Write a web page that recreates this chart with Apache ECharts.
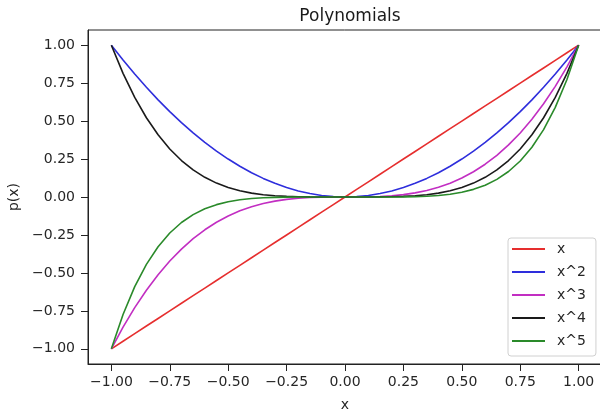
<!DOCTYPE html>
<html><head><meta charset="utf-8">
<script src="https://cdn.jsdelivr.net/npm/echarts@6/dist/echarts.min.js"></script>
<style>html,body{margin:0;padding:0;background:#fff}#c{width:600px;height:410px}</style>
</head><body><div id="c"></div>
<script>
const xs = [-1,-0.95,-0.9,-0.85,-0.8,-0.75,-0.7,-0.65,-0.6,-0.55,-0.5,-0.45,-0.4,-0.35,-0.3,-0.25,-0.2,-0.15,-0.1,-0.05,0,0.05,0.1,0.15,0.2,0.25,0.3,0.35,0.4,0.45,0.5,0.55,0.6,0.65,0.7,0.75,0.8,0.85,0.9,0.95,1];
const p1 = [-1,-0.95,-0.9,-0.85,-0.8,-0.75,-0.7,-0.65,-0.6,-0.55,-0.5,-0.45,-0.4,-0.35,-0.3,-0.25,-0.2,-0.15,-0.1,-0.05,0,0.05,0.1,0.15,0.2,0.25,0.3,0.35,0.4,0.45,0.5,0.55,0.6,0.65,0.7,0.75,0.8,0.85,0.9,0.95,1];
const p2 = [1,0.9025,0.81,0.7225,0.64,0.5625,0.49,0.4225,0.36,0.3025,0.25,0.2025,0.16,0.1225,0.09,0.0625,0.04,0.0225,0.01,0.0025,0,0.0025,0.01,0.0225,0.04,0.0625,0.09,0.1225,0.16,0.2025,0.25,0.3025,0.36,0.4225,0.49,0.5625,0.64,0.7225,0.81,0.9025,1];
const p3 = [-1,-0.8574,-0.729,-0.6141,-0.512,-0.4219,-0.343,-0.2746,-0.216,-0.1664,-0.125,-0.0911,-0.064,-0.0429,-0.027,-0.0156,-0.008,-0.0034,-0.001,-0.0001,0,0.0001,0.001,0.0034,0.008,0.0156,0.027,0.0429,0.064,0.0911,0.125,0.1664,0.216,0.2746,0.343,0.4219,0.512,0.6141,0.729,0.8574,1];
const p4 = [1,0.8145,0.6561,0.522,0.4096,0.3164,0.2401,0.1785,0.1296,0.0915,0.0625,0.041,0.0256,0.015,0.0081,0.0039,0.0016,0.0005,0.0001,0,0,0,0.0001,0.0005,0.0016,0.0039,0.0081,0.015,0.0256,0.041,0.0625,0.0915,0.1296,0.1785,0.2401,0.3164,0.4096,0.522,0.6561,0.8145,1];
const p5 = [-1,-0.7738,-0.5905,-0.4437,-0.3277,-0.2373,-0.1681,-0.116,-0.0778,-0.0503,-0.0313,-0.0185,-0.0102,-0.0053,-0.0024,-0.001,-0.0003,-0.0001,0,0,0,0,0,0.0001,0.0003,0.001,0.0024,0.0053,0.0102,0.0185,0.0313,0.0503,0.0778,0.116,0.1681,0.2373,0.3277,0.4437,0.5905,0.7738,1];
const seriesNames = ['x','x^2','x^3','x^4','x^5'];
const tickVals = [-1,-0.75,-0.5,-0.25,0,0.25,0.5,0.75,1];

const colors = ['#e62e2e','#2e2edc','#c22ec2','#1a1a1a','#2a8a2a'];
const ys = [p1,p2,p3,p4,p5];
const font = 'DejaVu Sans';
const fmt = v=>(v<0?'\u2212':'')+Math.abs(v).toFixed(2);
const chart = echarts.init(document.getElementById('c'), null, {renderer:'canvas'});
chart.setOption({
  animation:false,
  backgroundColor:'#fff',
  title:{text:'Polynomials', left:345, top:3, textAlign:'center',
    textStyle:{fontFamily:font, fontSize:17, fontWeight:'normal', color:'#1a1a1a'}},
  grid:{left:88, top:30, width:514, height:334, outerBoundsMode:'none', containLabel:false,
    show:true, borderColor:'#222', borderWidth:1, backgroundColor:'transparent'},
  legend:{orient:'vertical', left:508, top:238, padding:[4,10,8,3], itemGap:9, itemWidth:33, itemHeight:14,
    backgroundColor:'rgba(255,255,255,0.85)', borderColor:'#d0d0d0', borderWidth:1, borderRadius:3,
    itemStyle:{opacity:0},
    textStyle:{fontFamily:font, fontSize:14, color:'#262626', padding:[0,0,0,7]},
    data:seriesNames},
  xAxis:{type:'value', min:-1.1, max:1.1, name:'x', nameLocation:'middle', nameGap:34,
    nameTextStyle:{fontFamily:font, fontSize:14, color:'#262626'},
    splitLine:{show:false},
    axisLine:{show:true, onZero:false, lineStyle:{color:'#222'}},
    axisTick:{show:true, length:7, customValues:tickVals, lineStyle:{color:'#222'}},
    axisLabel:{customValues:tickVals, fontFamily:font, fontSize:14, color:'#262626', margin:11, formatter:fmt}},
  yAxis:{type:'value', min:-1.1, max:1.1, name:'p(x)', nameLocation:'middle', nameGap:60, nameRotate:90,
    nameTextStyle:{fontFamily:font, fontSize:14, color:'#262626'},
    splitLine:{show:false},
    axisLine:{show:true, onZero:false, lineStyle:{color:'#222'}},
    axisTick:{show:true, length:7, customValues:tickVals, lineStyle:{color:'#222'}},
    axisLabel:{customValues:tickVals, fontFamily:font, fontSize:14, color:'#262626', margin:13, formatter:fmt}},
  series: seriesNames.map((n,i)=>({
    name:n, type:'line', symbol:'none', smooth:false, clip:false,
    data: xs.map((x,j)=>[x, ys[i][j]]),
    lineStyle:{color:colors[i], width:1.6}, itemStyle:{color:colors[i]}
  }))
});
</script></body></html>
